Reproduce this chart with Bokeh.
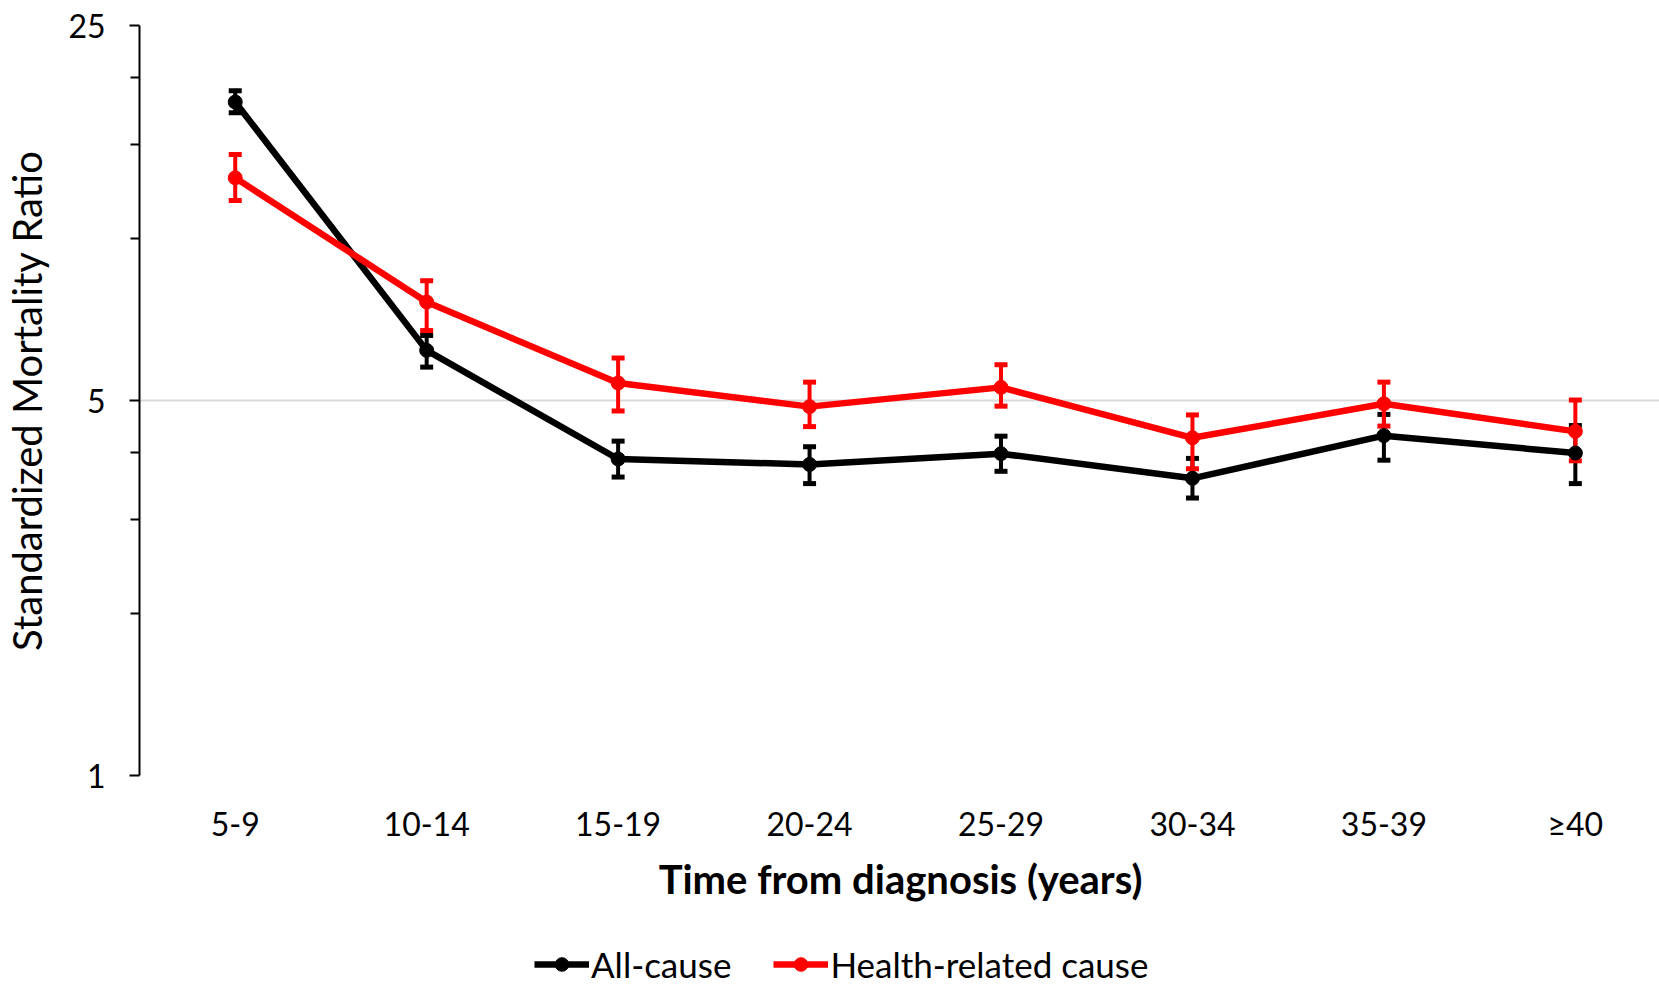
from bokeh.plotting import figure
from bokeh.layouts import column
from bokeh.models import (FixedTicker, NumeralTickFormatter, Whisker, ColumnDataSource,
                          Legend, LegendItem, Range1d, TeeHead)
from bokeh.embed import file_html
from bokeh.resources import INLINE

categories = ["5-9", "10-14", "15-19", "20-24", "25-29", "30-34", "35-39", "\u226540"]
all_cause = [18.0, 6.2, 3.89, 3.80, 3.98, 3.58, 4.30, 3.99]
all_cause_lower = [17.2, 5.77, 3.60, 3.50, 3.69, 3.29, 3.87, 3.50]
all_cause_upper = [18.9, 6.61, 4.20, 4.10, 4.29, 3.90, 4.71, 4.49]
health = [13.0, 7.63, 5.39, 4.87, 5.29, 4.26, 4.93, 4.38]
health_lower = [11.8, 6.75, 4.78, 4.47, 4.88, 3.73, 4.48, 3.86]
health_upper = [14.37, 8.36, 6.0, 5.41, 5.83, 4.70, 5.41, 5.01]
y_major_ticks = [1, 5, 25]
y_minor_ticks = [2, 3, 4, 10, 15, 20]
series_labels = ["All-cause", "Health-related cause"]
series_colors = ["black", "#FF0000"]

FONT = "Lato"
xs = list(range(len(categories)))

p = figure(frame_width=1522, frame_height=750, y_axis_type="log", output_backend="svg",
           toolbar_location=None, x_range=Range1d(-0.5, len(categories) - 0.55),
           y_range=Range1d(1, 25), min_border_left=137, min_border_right=0,
           min_border_top=25, min_border_bottom=132)
p.outline_line_color = None
p.background_fill_color = "white"
p.border_fill_color = "white"

# grids
p.xgrid.visible = False
p.ygrid.ticker = FixedTicker(ticks=y_major_ticks)
p.ygrid.grid_line_color = "#D9D9D9"
p.ygrid.grid_line_width = 2

# y axis
ya = p.yaxis[0]
ya.ticker = FixedTicker(ticks=y_major_ticks, minor_ticks=y_minor_ticks)
ya.formatter = NumeralTickFormatter(format="0")
ya.axis_line_color = "black"
ya.axis_line_width = 2
ya.major_tick_line_color = "black"
ya.major_tick_line_width = 2
ya.major_tick_out = 10
ya.major_tick_in = 0
ya.minor_tick_line_color = "black"
ya.minor_tick_line_width = 2
ya.minor_tick_out = 9
ya.minor_tick_in = 0
ya.major_label_text_font = FONT
ya.major_label_text_font_size = "32px"
ya.major_label_text_color = "black"
ya.major_label_standoff = 24
ya.axis_label = "Standardized Mortality Ratio"
ya.axis_label_text_font = FONT
ya.axis_label_text_font_style = "normal"
ya.axis_label_text_font_size = "40px"
ya.axis_label_text_color = "black"
ya.axis_label_standoff = 14

# x axis
xa = p.xaxis[0]
xa.ticker = FixedTicker(ticks=xs)
xa.major_label_overrides = {i: c for i, c in zip(xs, categories)}
xa.axis_line_color = None
xa.major_tick_line_color = None
xa.minor_tick_line_color = None
xa.major_label_text_font = FONT
xa.major_label_text_font_size = "32px"
xa.major_label_text_color = "black"
xa.major_label_standoff = 22
xa.axis_label = "Time from diagnosis (years)"
xa.axis_label_text_font = FONT
xa.axis_label_text_font_style = "bold"
xa.axis_label_text_font_size = "40px"
xa.axis_label_text_color = "black"
xa.axis_label_standoff = 9

src_a = ColumnDataSource(dict(x=xs, y=all_cause, lower=all_cause_lower, upper=all_cause_upper))
src_h = ColumnDataSource(dict(x=xs, y=health, lower=health_lower, upper=health_upper))
sources = [src_a, src_h]

for src, col in zip(sources, series_colors):
    w = Whisker(base="x", lower="lower", upper="upper", source=src, dimension="height",
                line_color=col, line_width=4,
                upper_head=TeeHead(size=13, line_color=col, line_width=5),
                lower_head=TeeHead(size=13, line_color=col, line_width=5),
                level="underlay")
    p.add_layout(w)

for src, col in zip(sources, series_colors):
    p.line("x", "y", source=src, line_color=col, line_width=6.5)
    p.scatter("x", "y", source=src, marker="circle", size=14, fill_color=col, line_color=col)

# legend strip (separate figure so the legend is not clipped by the main frame)
p2 = figure(width=1659, height=78, output_backend="svg", toolbar_location=None,
            x_axis_type=None, y_axis_type=None, x_range=Range1d(100, 101), y_range=Range1d(100, 101),
            min_border_left=0, min_border_right=0, min_border_top=0, min_border_bottom=0)
p2.outline_line_color = None
p2.background_fill_color = "white"
p2.border_fill_color = "white"

items = []
for src, col, lab in zip(sources, series_colors, series_labels):
    l2 = p2.line("x", "y", source=src, line_color=col, line_width=6.5)
    s2 = p2.scatter("x", "y", source=src, marker="circle", size=14, fill_color=col, line_color=col)
    items.append(LegendItem(label=lab, renderers=[l2, s2]))

legend = Legend(items=items, orientation="horizontal", location=(395, 0),
                label_text_font=FONT, label_text_font_size="35px", label_text_color="black",
                glyph_width=55, glyph_height=34, label_standoff=2, spacing=42,
                border_line_color=None, background_fill_alpha=0, padding=0, margin=0)
p2.add_layout(legend, "center")

layout = column(p, p2, spacing=0)
open("out.html", "w").write(file_html(layout, INLINE))
